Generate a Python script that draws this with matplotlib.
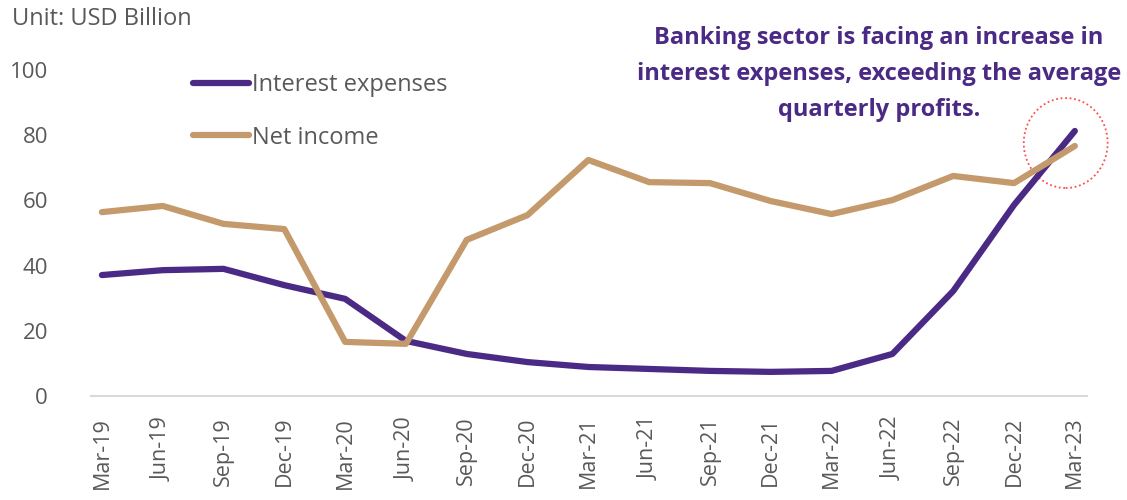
import matplotlib
matplotlib.use("Agg")
import matplotlib.pyplot as plt
from matplotlib.patches import Ellipse

quarters = ["Mar-19", "Jun-19", "Sep-19", "Dec-19", "Mar-20", "Jun-20", "Sep-20",
            "Dec-20", "Mar-21", "Jun-21", "Sep-21", "Dec-21", "Mar-22", "Jun-22",
            "Sep-22", "Dec-22", "Mar-23"]
interest_expenses = [37.1, 38.6, 39.0, 34.0, 29.8, 16.9, 12.9, 10.4, 8.9, 8.3, 7.7,
                     7.4, 7.7, 12.9, 32.2, 58.6, 81.3]
net_income = [56.4, 58.3, 52.8, 51.2, 16.6, 16.0, 47.9, 55.5, 72.4, 65.6, 65.3,
              59.8, 55.8, 60.1, 67.5, 65.3, 76.7]
y_ticks = [0, 20, 40, 60, 80, 100]

PURPLE = "#4B2A85"
TAN = "#C49A6C"
GREY = "#595959"

plt.rcParams["font.family"] = ["Open Sans", "DejaVu Sans"]

fig = plt.figure(figsize=(11.27, 5.0), dpi=100)
ax = fig.add_axes([0.0807, 0.208, 0.8838, 0.652])

x = list(range(len(quarters)))
ax.plot(x, interest_expenses, color=PURPLE, lw=4.5, solid_capstyle="round",
        solid_joinstyle="round", label="Interest expenses")
ax.plot(x, net_income, color=TAN, lw=4.5, solid_capstyle="round",
        solid_joinstyle="round", label="Net income")

ax.set_xlim(-0.18, len(quarters) - 1 + 0.2)
ax.set_ylim(0, 100)
ax.set_yticks(y_ticks)
ax.set_xticks(x)
ax.set_xticklabels(quarters, rotation=90)
ax.tick_params(axis="both", length=0, colors=GREY, labelsize=16)
ax.tick_params(axis="y", pad=31)
ax.tick_params(axis="x", labelsize=15.5, pad=15)

for side in ("top", "right", "left"):
    ax.spines[side].set_visible(False)
ax.spines["bottom"].set_color("#D9D9D9")
ax.spines["bottom"].set_linewidth(1.5)

leg = ax.legend(loc="upper left", bbox_to_anchor=(0.102, 0.99), frameon=False,
                fontsize=17, handlelength=2.4, handletextpad=0.1,
                labelspacing=1.2, labelcolor=GREY, borderpad=0,
                borderaxespad=0)

# dotted highlight around the latest quarter
circle = Ellipse((15.85, 77.6), width=1.38, height=27.6, fill=False,
                 edgecolor="#FF4D4D", linestyle=(0, (1, 1.5)), lw=1.3,
                 clip_on=False)
ax.add_patch(circle)

fig.text(0.011, 0.962, "Unit: USD Billion", color=GREY, fontsize=17,
         ha="left", va="center")
fig.text(0.78, 0.852,
         "Banking sector is facing an increase in\ninterest expenses, exceeding the average\nquarterly profits.",
         color=PURPLE, fontsize=17, fontweight="bold", ha="center", va="center",
         linespacing=1.65)

fig.savefig("out.png", dpi=100)
